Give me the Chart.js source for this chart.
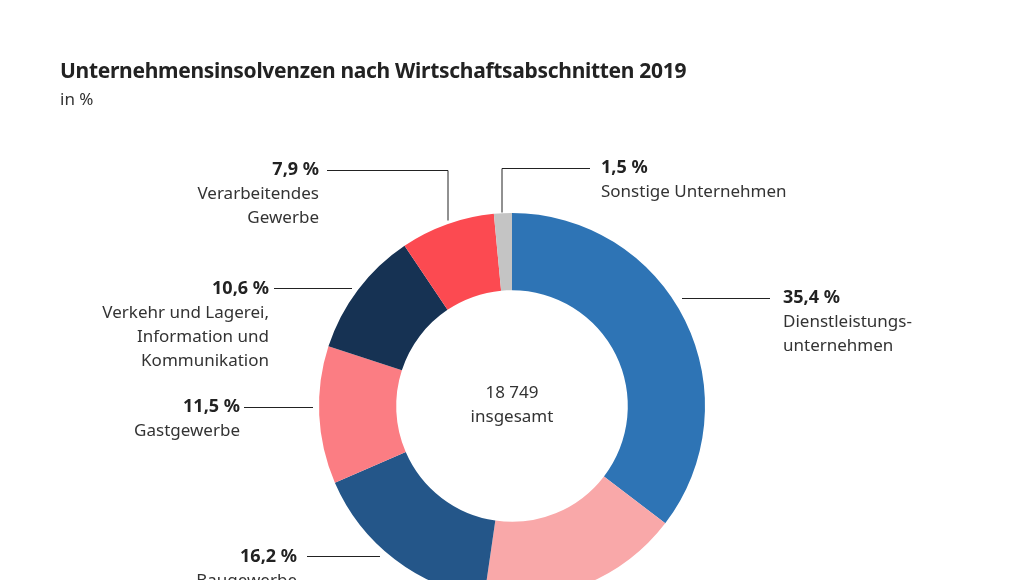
<!DOCTYPE html><html><head><meta charset="utf-8">
<script src="https://cdn.jsdelivr.net/npm/chart.js@4"></script>
<style>body{margin:0;width:1024px;height:580px;overflow:hidden;background:#fff;font-family:"Source Sans Pro","Noto Sans",sans-serif;position:relative}
#t{position:absolute;left:60px;top:56px;font-size:21px;font-weight:bold;color:#222;letter-spacing:-0.3px}
#s{position:absolute;left:60px;top:87px;font-size:17px;color:#333}
#w{position:absolute;left:0;top:0;width:1024px;height:700px}</style></head><body>
<div id="w"><canvas id="c" width="1024" height="700"></canvas></div>
<div id="t">Unternehmensinsolvenzen nach Wirtschaftsabschnitten 2019</div>
<div id="s">in %</div>
<script>
const categories=["Dienstleistungsunternehmen","Handel","Baugewerbe","Gastgewerbe","Verkehr und Lagerei, Information und Kommunikation","Verarbeitendes Gewerbe","Sonstige Unternehmen"];
const values=[35.4,16.9,16.2,11.5,10.6,7.9,1.5];
const valueLabels=["35,4 %","16,9 %","16,2 %","11,5 %","10,6 %","7,9 %","1,5 %"];
const colors=["#2e74b5","#f9a8a9","#245689","#fb7d83","#163253","#fc4a51","#c4c4c4"];
const labelSpec=[
 {x:783,y:298,a:"left",n:["Dienstleistungs-","unternehmen"],l:[[682,298],[770,298]]},
 null,
 {x:297,y:557,a:"right",n:["Baugewerbe"],l:[[307,556],[380,556]]},
 {x:240,y:407,a:"right",n:["Gastgewerbe"],l:[[244,407],[313,407]]},
 {x:269,y:289,a:"right",n:["Verkehr und Lagerei,","Information und","Kommunikation"],l:[[274,288],[352,288]]},
 {x:319,y:170,a:"right",n:["Verarbeitendes","Gewerbe"],l:[[327,170],[448,170],[448,220]]},
 {x:601,y:168,a:"left",n:["Sonstige Unternehmen"],l:[[590,168],[502,168],[502,212]]}
];
const F='"Source Sans Pro","Noto Sans",sans-serif';
const labelsPlugin={id:"lbl",afterDraw(ch){const c=ch.ctx;c.save();
 labelSpec.forEach((s,i)=>{if(!s)return;c.strokeStyle="#222";c.lineWidth=1;c.beginPath();
  s.l.forEach((p,j)=>j?c.lineTo(p[0],p[1]+.5):c.moveTo(p[0],p[1]+.5));c.stroke();
  c.textAlign=s.a;c.textBaseline="middle";c.fillStyle="#222";c.font="bold 18px "+F;c.fillText(valueLabels[i],s.x,s.y);
  c.font="17px "+F;c.fillStyle="#333";s.n.forEach((t,k)=>c.fillText(t,s.x,s.y+24*(k+1)));});
 const a=ch.getDatasetMeta(0).data[0];c.textAlign="center";c.font="17px "+F;c.fillStyle="#333";
 c.fillText("18 749",a.x,a.y-13);c.fillText("insgesamt",a.x,a.y+11);c.restore();}};
new Chart(document.getElementById("c"),{type:"doughnut",
 data:{labels:categories,datasets:[{data:values,backgroundColor:colors,borderWidth:0}]},
 options:{responsive:false,animation:false,cutout:"60%",layout:{padding:{top:213,bottom:101}},
  plugins:{legend:{display:false},tooltip:{enabled:false}}},plugins:[labelsPlugin]});
</script></body></html>
